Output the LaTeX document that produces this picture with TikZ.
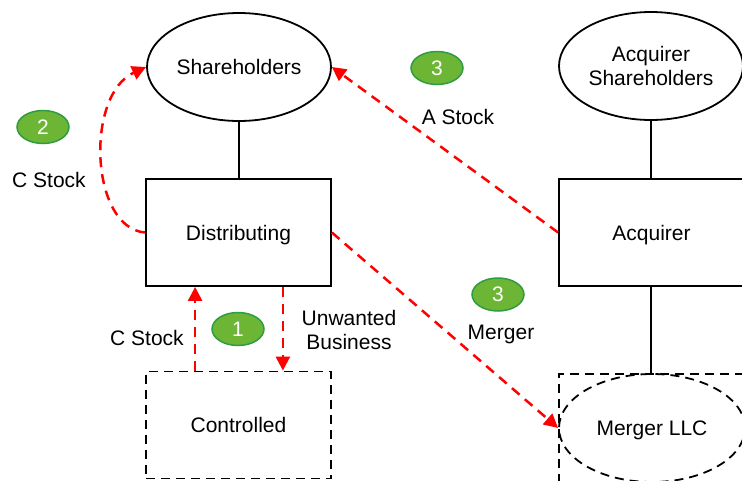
\documentclass[tikz,border=0pt]{standalone}
\usepackage{fontspec}
\setmainfont{Liberation Sans}
\usetikzlibrary{shapes.geometric,arrows.meta}
\definecolor{stepgreen}{HTML}{6DB535}
\definecolor{stepedge}{HTML}{2E9C42}
\tikzset{
  entity/.style={draw=black, line width=1.8pt, minimum width=185pt, minimum height=107pt, inner sep=0pt, text depth=0pt},
  holders/.style={draw=black, line width=1.8pt, ellipse, minimum width=184pt, minimum height=108pt, inner sep=0pt, align=center, text depth=0pt},
  pending/.style={entity, dash pattern=on 9pt off 6pt},
  stepmark/.style={ellipse, fill=stepgreen, draw=stepedge, line width=1.5pt, minimum width=52pt, minimum height=33pt, inner sep=0pt, text=white},
  link/.style={draw=black, line width=1.8pt},
  flow/.style={draw=red, line width=2.5pt, dash pattern=on 10pt off 7pt, -{Triangle[length=14pt,width=14pt]}},
  tag/.style={inner sep=0pt, align=center}
}
\begin{document}
\begin{tikzpicture}[x=1pt, y=-1pt, font=\fontsize{21}{24.5}\selectfont]
\useasboundingbox (0,0) rectangle (742,480);
\clip (0,0) rectangle (742,480);

% left side: distributing group
\node[holders] (sh) at (239,67) {Shareholders};
\node[entity] (dist) at (238.5,232.5) {Distributing};
\node[pending] (ctrl) at (238.5,425) {Controlled};

% right side: acquiring group
\node[holders] (ash) at (651,66) {Acquirer\\Shareholders};
\node[entity] (acq) at (651.5,232.5) {Acquirer};
\node[pending, minimum height=130pt] (mbox) at (651.5,439) {};
\node[draw=black, line width=1.8pt, dash pattern=on 9pt off 6pt, ellipse, minimum width=186pt, minimum height=108pt, inner sep=0pt, text depth=0pt] (mllc) at (652,428) {Merger LLC};

% ownership lines
\draw[link] (sh.south) -- (sh.south |- dist.north);
\draw[link] (ash.south) -- (ash.south |- acq.north);
\draw[link] (ash.south |- acq.south) -- (ash.south |- mbox.north);

% step markers
\node[stepmark] (s2) at (43,127) {2};
\node[stepmark] (s3a) at (437,68) {3};
\node[stepmark] (s3b) at (498,294.5) {3};
\node[stepmark] (s1) at (238,329) {1};

% flow labels
\node[tag] (lc2) at (49,180) {C Stock};
\node[tag] (la) at (458,117) {A Stock};
\node[tag] (lm) at (501,334) {Merger};
\node[tag] (lc1) at (147,338) {C Stock};
\node[tag] (lu) at (349,330) {Unwanted\\Business};

% transaction flows
\draw[flow] (dist.west) .. controls (90,228) and (85,95) .. (sh.west);
\draw[flow] (acq.west) -- (sh.east);
\draw[flow] (dist.east) -- (mllc.west);
\draw[flow] ([xshift=50pt]ctrl.north west) -- ([xshift=50pt]dist.south west);
\draw[flow] ([xshift=-49pt]dist.south east) -- ([xshift=-49pt]ctrl.north east);
\end{tikzpicture}
\end{document}
